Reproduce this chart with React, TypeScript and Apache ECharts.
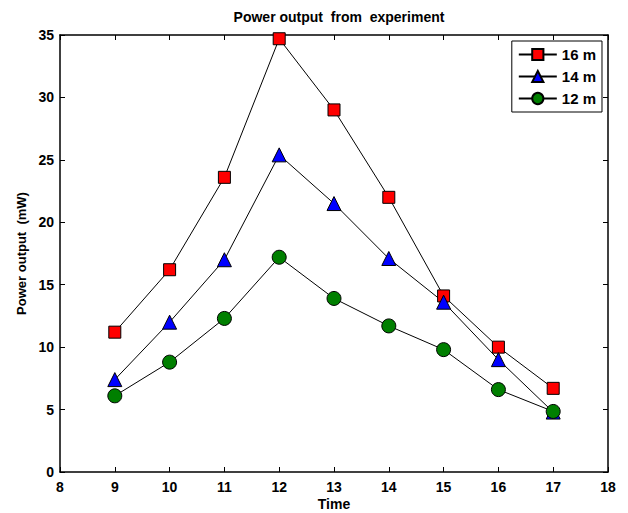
import React, { useEffect, useRef } from "react";
import * as echarts from "echarts";

const times = [9, 10, 11, 12, 13, 14, 15, 16, 17];
const s16 = [11.2, 16.2, 23.6, 34.7, 29.0, 22.0, 14.1, 10.0, 6.7];
const s14 = [7.4, 12.0, 17.0, 25.4, 21.5, 17.1, 13.6, 9.0, 4.8];
const s12 = [6.1, 8.8, 12.3, 17.2, 13.9, 11.7, 9.8, 6.6, 4.85];

const FONT = "'Liberation Sans', Arial, sans-serif";

export default function App() {
  const ref = useRef<HTMLDivElement>(null);
  useEffect(() => {
    if (!ref.current) return;
    const chart = echarts.init(ref.current, undefined, { renderer: "svg" });
    const pair = (arr: number[]) => times.map((t, i) => [t, arr[i]]);
    const axisCommon = {
      axisLine: { show: true, onZero: false, lineStyle: { color: "#000", width: 1.5 } },
      axisTick: { show: true, inside: true, length: 5, lineStyle: { color: "#000" } },
      splitLine: { show: false },
    };
    const mk = (name: string, data: number[], symbol: string, color: string, size: number) => ({
      type: "line",
      name,
      data: pair(data),
      symbol,
      symbolSize: size,
      lineStyle: { color: "#000", width: 1 },
      itemStyle: { color, borderColor: "#000", borderWidth: 1 },
      xAxisIndex: 0,
      yAxisIndex: 0,
    });
    chart.setOption({
      animation: false,
      backgroundColor: "#fff",
      title: {
        text: "Power output  from  experiment",
        left: 334,
        textAlign: "center",
        top: 5,
        textStyle: { fontFamily: FONT, fontWeight: "bold", fontSize: 14, color: "#000" },
      },
      legend: {
        right: 26,
        top: 41,
        orient: "vertical",
        backgroundColor: "#fff",
        borderColor: "#000",
        borderWidth: 1,
        padding: [6, 6, 6, 6],
        itemGap: 7,
        itemWidth: 38,
        itemHeight: 14,
        textStyle: { fontFamily: FONT, fontWeight: "bold", fontSize: 15, color: "#000" },
        data: ["16 m", "14 m", "12 m"],
      },
      grid: { left: 60, right: 20, top: 35, bottom: 41, outerBoundsMode: "none", containLabel: false },
      xAxis: [
        {
          type: "value",
          min: 8,
          max: 18,
          interval: 1,
          position: "bottom",
          name: "Time",
          nameLocation: "middle",
          nameGap: 25,
          nameMoveOverlap: false,
          nameTextStyle: { fontFamily: FONT, fontWeight: "bold", fontSize: 14, color: "#000" },
          axisLabel: { fontFamily: FONT, fontWeight: "bold", fontSize: 14, color: "#000", margin: 8 },
          ...axisCommon,
        },
        {
          type: "value",
          min: 8,
          max: 18,
          interval: 1,
          position: "top",
          axisLabel: { show: false },
          ...axisCommon,
        },
      ],
      yAxis: [
        {
          type: "value",
          min: 0,
          max: 35,
          interval: 5,
          position: "left",
          name: "Power output  (mW)",
          nameLocation: "middle",
          nameGap: 32,
          nameMoveOverlap: false,
          nameTextStyle: { fontFamily: FONT, fontWeight: "bold", fontSize: 13, color: "#000" },
          axisLabel: { fontFamily: FONT, fontWeight: "bold", fontSize: 14, color: "#000", margin: 6 },
          ...axisCommon,
        },
        {
          type: "value",
          min: 0,
          max: 35,
          interval: 5,
          position: "right",
          axisLabel: { show: false },
          ...axisCommon,
        },
      ],
      series: [
        mk("16 m", s16, "rect", "#ff0000", 12),
        mk("14 m", s14, "triangle", "#0000ff", 14),
        mk("12 m", s12, "circle", "#007f00", 14),
      ],
    });
    return () => chart.dispose();
  }, []);
  return <div ref={ref} style={{ width: 628, height: 513, position: "absolute", left: 0, top: 0 }} />;
}
